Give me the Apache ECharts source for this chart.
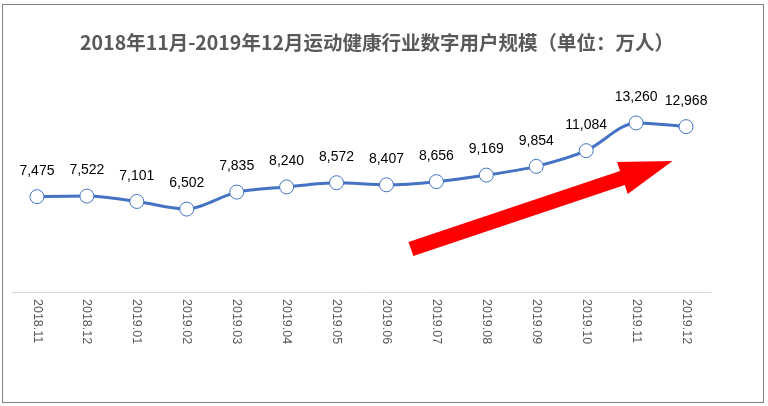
<!DOCTYPE html>
<html>
<head>
<meta charset="utf-8">
<script src="https://cdn.jsdelivr.net/npm/echarts@6/dist/echarts.min.js"></script>
<style>
html,body{margin:0;padding:0;background:#fff;}
#frame{position:absolute;left:2px;top:4px;width:760px;height:397px;border:1px solid #7f7f7f;box-sizing:content-box;}
#chart{position:absolute;left:0;top:0;width:768px;height:406px;}
</style>
</head>
<body>
<div id="frame"></div>
<div id="chart"></div>
<script>
var titleText = '2018年11月-2019年12月运动健康行业数字用户规模（单位：万人）';
var categories = ['2018.11','2018.12','2019.01','2019.02','2019.03','2019.04','2019.05','2019.06','2019.07','2019.08','2019.09','2019.10','2019.11','2019.12'];
var users = [7475, 7522, 7101, 6502, 7835, 8240, 8572, 8407, 8656, 9169, 9854, 11084, 13260, 12968];

var chart = echarts.init(document.getElementById('chart'));
chart.setOption({
  animation: false,
  backgroundColor: 'transparent',
  title: {
    text: titleText,
    left: 372,
    textAlign: 'center',
    top: 28,
    textStyle: {
      fontFamily: 'Noto Sans CJK SC',
      fontSize: 19.5,
      fontWeight: 'bold',
      color: '#595959'
    }
  },
  grid: { left: 12, right: 57, top: 88, bottom: 114 },
  xAxis: {
    type: 'category',
    data: categories,
    boundaryGap: true,
    axisLine: { lineStyle: { color: '#d9d9d9', width: 1 } },
    axisTick: { show: false },
    axisLabel: {
      rotate: -90,
      color: '#595959',
      fontSize: 12.5,
      fontFamily: 'Liberation Sans',
      margin: 7
    }
  },
  yAxis: {
    type: 'value',
    min: 0,
    max: 16000,
    show: false,
    splitLine: { show: false }
  },
  series: [{
    type: 'line',
    data: users,
    smooth: 0.3,
    symbol: 'circle',
    symbolSize: 14,
    lineStyle: { color: '#4472C4', width: 3 },
    itemStyle: { color: '#ffffff', borderColor: '#4472C4', borderWidth: 1 },
    label: {
      show: true,
      position: 'top',
      distance: 11,
      color: '#000000',
      fontSize: 14,
      fontFamily: 'Liberation Sans',
      formatter: function (p) { return p.value.toLocaleString('en-US'); }
    }
  }],
  graphic: [{
    type: 'polygon',
    z: 1,
    shape: {
      points: [
        [408.5, 241.9], [620.0, 170.9], [617.1, 162.1], [672.6, 161.0],
        [627.7, 193.9], [624.8, 185.1], [413.3, 256.1]
      ]
    },
    style: { fill: '#ff0000' }
  }]
});
</script>
</body>
</html>
